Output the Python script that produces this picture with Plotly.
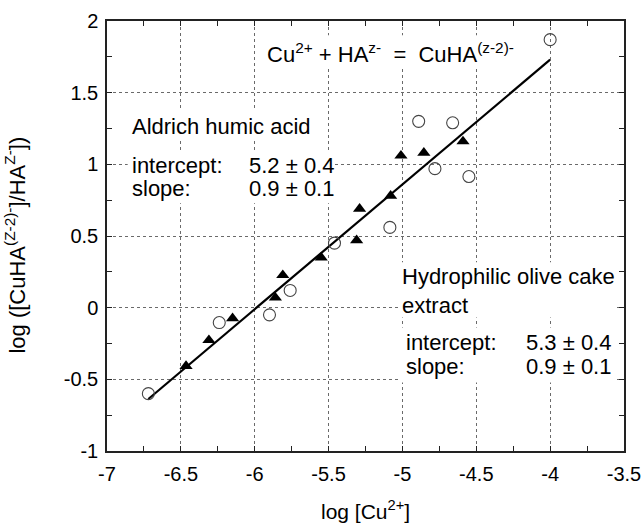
import plotly.graph_objects as go

# ---- data ----
tri_x = [-6.465, -6.31, -6.15, -5.86, -5.81, -5.55, -5.31, -5.29, -5.08, -5.01, -4.855, -4.59]
tri_y = [-0.407, -0.227, -0.074, 0.07, 0.227, 0.35, 0.47, 0.69, 0.78, 1.06, 1.08, 1.16]

circ_x = [-6.72, -6.24, -5.90, -5.76, -5.46, -5.085, -4.89, -4.78, -4.66, -4.55, -4.00]
circ_y = [-0.60, -0.104, -0.05, 0.12, 0.45, 0.56, 1.30, 0.97, 1.29, 0.915, 1.87]

fit_x = [-6.72, -4.0]
fit_y = [-0.637, 1.73]

x_ticks = [-7, -6.5, -6, -5.5, -5, -4.5, -4, -3.5]
x_tick_labels = ["-7", "-6.5", "-6", "-5.5", "-5", "-4.5", "-4", "-3.5"]
y_ticks = [-1, -0.5, 0, 0.5, 1, 1.5, 2]
y_tick_labels = ["-1", "-0.5", "0", "0.5", "1", "1.5", "2"]
minor_step = 0.25

FONT = "Liberation Sans, Arial, Helvetica, sans-serif"

fig = go.Figure()
fig.add_trace(go.Scatter(x=fit_x, y=fit_y, mode="lines",
                         line=dict(color="black", width=2.2), showlegend=False))
fig.add_trace(go.Scatter(x=circ_x, y=circ_y, mode="markers",
                         marker=dict(symbol="circle-open", size=12, color="#444444",
                                     line=dict(color="#444444", width=1.1)),
                         showlegend=False))
fig.add_trace(go.Scatter(x=tri_x, y=tri_y, mode="markers",
                         marker=dict(symbol="triangle-up", size=11.5, color="black",
                                     line=dict(width=0)),
                         showlegend=False))

# white boxes hiding the grid behind the texts
boxes = [
    (-5.95, -4.24, 1.67, 1.90),
    (-6.86, -5.586, 1.168, 1.377),
    (-6.86, -5.47, 0.728, 1.098),
    (-5.017, -3.55, -0.068, 0.316),
    (-5.017, -3.55, -0.522, -0.138),
]
for x0, x1, y0, y1 in boxes:
    fig.add_shape(type="rect", xref="x", yref="y", x0=x0, x1=x1, y0=y0, y1=y1,
                  fillcolor="white", line=dict(width=0), layer="above")

def txt(x, y, s, size=22):
    fig.add_annotation(x=x, y=y, xref="x", yref="y", text=s, showarrow=False,
                       xanchor="left", yanchor="middle",
                       font=dict(family=FONT, size=size, color="black"))

txt(-5.93, 1.775, "Cu<sup>2+</sup> + HA<sup>z-</sup>  =  CuHA<sup>(z-2)-</sup>", 22)
txt(-6.845, 1.262, "Aldrich humic acid")
txt(-6.845, 0.995, "intercept:")
txt(-6.05, 0.995, "5.2 ± 0.4")
txt(-6.845, 0.83, "slope:")
txt(-6.05, 0.83, "0.9 ± 0.1")
txt(-5.015, 0.214, "Hydrophilic olive cake")
txt(-5.015, 0.016, "extract")
txt(-4.99, -0.24, "intercept:")
txt(-4.18, -0.24, "5.3 ± 0.4")
txt(-4.99, -0.408, "slope:")
txt(-4.18, -0.408, "0.9 ± 0.1")

# axis titles
fig.add_annotation(x=0.5, y=-0.137, xref="paper", yref="paper", showarrow=False,
                   text="log [Cu<sup>2+</sup>]", xanchor="center", yanchor="middle",
                   font=dict(family=FONT, size=21, color="black"))
fig.add_annotation(x=-0.178, y=0.48, xref="paper", yref="paper", showarrow=False,
                   text="log ([CuHA<sup>(Z-2)-</sup>]/HA<sup>Z-</sup>])", textangle=-90,
                   xanchor="center", yanchor="middle",
                   font=dict(family=FONT, size=22, color="black"))

axis_common = dict(
    showline=True, linecolor="#222222", linewidth=1.5, mirror="allticks",
    ticks="inside", ticklen=5, tickwidth=1, tickcolor="#222222",
    showgrid=True, gridcolor="#6a6a6a", griddash="dot", gridwidth=1,
    zeroline=False, automargin=False,
    tickfont=dict(family=FONT, size=20, color="black"),
    minor=dict(tickmode="linear", tick0=0, dtick=minor_step, ticks="inside",
               ticklen=5, tickwidth=1, tickcolor="#222222", showgrid=False),
)

fig.update_xaxes(range=[x_ticks[0], x_ticks[-1]], tickmode="array", tickvals=x_ticks,
                 ticktext=x_tick_labels, ticklabelstandoff=4, **axis_common)
fig.update_yaxes(range=[y_ticks[0], y_ticks[-1]], tickmode="array", tickvals=y_ticks,
                 ticktext=y_tick_labels, ticklabelstandoff=3, **axis_common)

fig.update_layout(
    width=642, height=525,
    margin=dict(l=107, r=18, t=21, b=74),
    paper_bgcolor="white", plot_bgcolor="white",
    font=dict(family=FONT, color="black"),
    showlegend=False,
)

fig.write_html("out.html", config={"displayModeBar": False},
               post_script="document.body.style.margin='0';document.body.style.padding='0';")
